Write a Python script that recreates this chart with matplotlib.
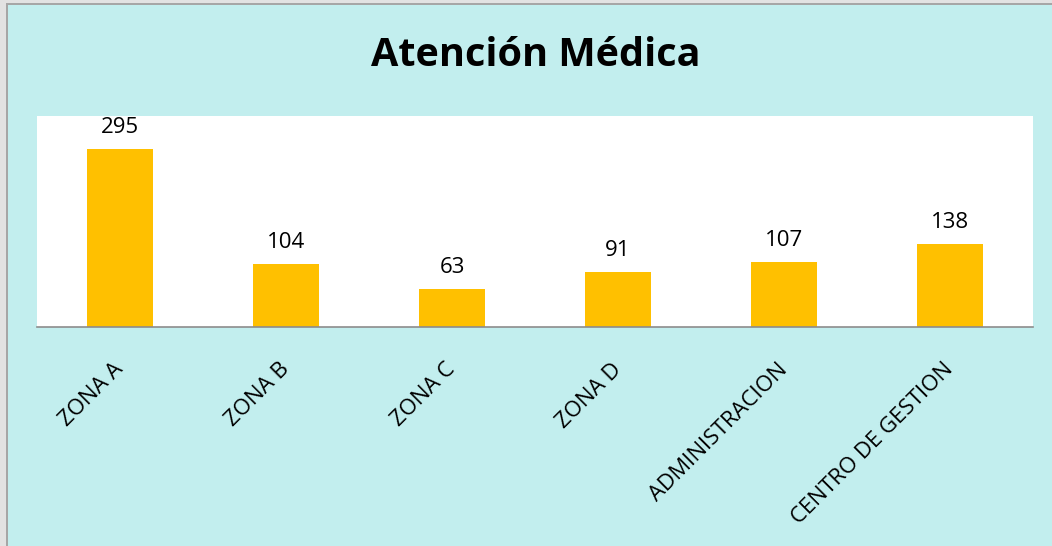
import matplotlib.pyplot as plt
from matplotlib.patches import Rectangle
from matplotlib.transforms import ScaledTranslation

# ---------------- Data ----------------
categories = ["ZONA A", "ZONA B", "ZONA C", "ZONA D", "ADMINISTRACION", "CENTRO DE GESTION"]
values = [295, 104, 63, 91, 107, 138]

bg = "#C2EEEE"
bar_color = "#FFC000"
font = "Open Sans"

# ---------------- Figure ----------------
W, H = 1052, 546
fig = plt.figure(figsize=(W / 100, H / 100), dpi=100)
fig.patch.set_facecolor(bg)

# frame on the top and left edges
fig.patches.append(Rectangle((0, 0), 6 / W, 1, transform=fig.transFigure,
                             facecolor="#E2E2E2", edgecolor="none", zorder=0))
fig.patches.append(Rectangle((0, 1 - 3 / H), 1, 3 / H, transform=fig.transFigure,
                             facecolor="#E2E2E2", edgecolor="none", zorder=0))
fig.patches.append(Rectangle((6 / W, 0), 2 / W, 1 - 3 / H, transform=fig.transFigure,
                             facecolor="#A6A6A6", edgecolor="none", zorder=1))
fig.patches.append(Rectangle((6 / W, 1 - 5 / H), 1, 2 / H, transform=fig.transFigure,
                             facecolor="#A6A6A6", edgecolor="none", zorder=1))

# plot area in pixels: x 37..1033, y 116..327
ax = fig.add_axes([37 / W, 1 - 327 / H, (1033 - 37) / W, (327 - 116) / H])
ax.set_facecolor("white")

x = range(len(categories))
bars = ax.bar(x, values, width=0.4, color=bar_color, zorder=2)

ax.set_xlim(-0.5, len(categories) - 0.5)
ax.set_ylim(0, 350)

for spine in ["top", "right", "left"]:
    ax.spines[spine].set_visible(False)
ax.spines["bottom"].set_color("#8C8C8C")
ax.spines["bottom"].set_linewidth(1.2)

ax.set_yticks([])
ax.set_xticks(list(x))
ax.set_xticklabels(categories, rotation=45, ha="right", rotation_mode="anchor",
                   fontsize=16, family=font)
ax.tick_params(axis="x", length=0, pad=23)
# nudge the slanted labels a little to the left
shift = ScaledTranslation(-0.07, 0, fig.dpi_scale_trans)
for lbl in ax.get_xticklabels():
    lbl.set_transform(lbl.get_transform() + shift)

# value labels above bars
for rect, v in zip(bars, values):
    ax.annotate(str(v), (rect.get_x() + rect.get_width() / 2, v),
                xytext=(0, 8), textcoords="offset points",
                ha="center", va="bottom", fontsize=16, family=font)

fig.text(536 / W, 1 - 56 / H, "Atención Médica", ha="center", va="center",
         fontsize=28.5, fontweight="bold", family=font)

fig.savefig("out.png", dpi=100, facecolor=bg)
